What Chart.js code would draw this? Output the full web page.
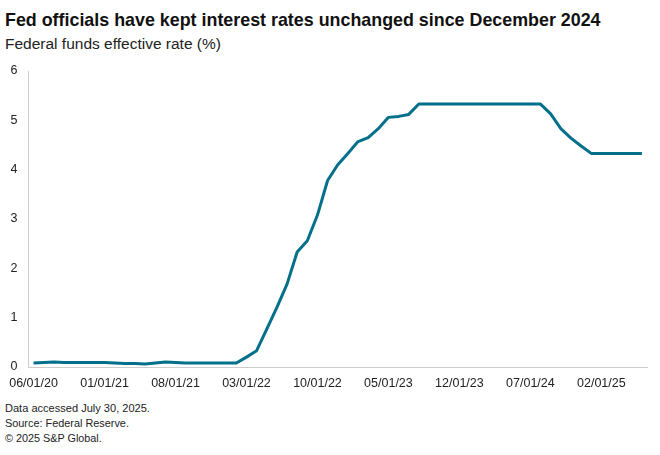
<!DOCTYPE html>
<html>
<head>
<meta charset="utf-8">
<script src="https://cdn.jsdelivr.net/npm/chart.js@4"></script>
<style>
  html, body { margin: 0; padding: 0; background: #fff; }
  body { width: 660px; height: 455px; position: relative; overflow: hidden; font-family: "Liberation Sans", Arial, sans-serif; }
  .txt { position: absolute; left: 5px; white-space: nowrap; line-height: 1; }
  #title { top: 12px; font-weight: bold; font-size: 18px; color: #111; }
  #subtitle { top: 36px; font-size: 15px; color: #222; }
  .foot { font-size: 11px; color: #222; }
  #f1 { top: 403px; } #f2 { top: 418px; } #f3 { top: 433px; }
  #wrap { position: absolute; left: 0; top: 0; width: 660px; height: 400px; }
</style>
</head>
<body>
<div id="title" class="txt" data-w="596">Fed officials have kept interest rates unchanged since December 2024</div>
<div id="subtitle" class="txt" data-w="216">Federal funds effective rate (%)</div>
<div id="f1" class="txt foot" data-w="145">Data accessed July 30, 2025.</div>
<div id="f2" class="txt foot" data-w="124">Source: Federal Reserve.</div>
<div id="f3" class="txt foot" data-w="97">© 2025 S&amp;P Global.</div>
<div id="wrap"><canvas id="c"></canvas></div>
<script>
const months = [
  "06/01/20","07/01/20","08/01/20","09/01/20","10/01/20","11/01/20","12/01/20",
  "01/01/21","02/01/21","03/01/21","04/01/21","05/01/21","06/01/21","07/01/21","08/01/21","09/01/21","10/01/21","11/01/21","12/01/21",
  "01/01/22","02/01/22","03/01/22","04/01/22","05/01/22","06/01/22","07/01/22","08/01/22","09/01/22","10/01/22","11/01/22","12/01/22",
  "01/01/23","02/01/23","03/01/23","04/01/23","05/01/23","06/01/23","07/01/23","08/01/23","09/01/23","10/01/23","11/01/23","12/01/23",
  "01/01/24","02/01/24","03/01/24","04/01/24","05/01/24","06/01/24","07/01/24","08/01/24","09/01/24","10/01/24","11/01/24","12/01/24",
  "01/01/25","02/01/25","03/01/25","04/01/25","05/01/25","06/01/25"
];
const fedFundsRate = [
  0.08,0.09,0.10,0.09,0.09,0.09,0.09,
  0.09,0.08,0.07,0.07,0.06,0.08,0.10,0.09,0.08,0.08,0.08,0.08,
  0.08,0.08,0.20,0.33,0.77,1.21,1.68,2.33,2.56,3.08,3.78,4.10,
  4.33,4.57,4.65,4.83,5.06,5.08,5.12,5.33,5.33,5.33,5.33,5.33,
  5.33,5.33,5.33,5.33,5.33,5.33,5.33,5.33,5.13,4.83,4.64,4.48,
  4.33,4.33,4.33,4.33,4.33,4.33
];
const shownTicks = ["06/01/20","01/01/21","08/01/21","03/01/22","10/01/22","05/01/23","12/01/23","07/01/24","02/01/25"];
const yTicks = [0,1,2,3,4,5,6];

// fit text widths
const mc = document.createElement('canvas').getContext('2d');
document.querySelectorAll('.txt').forEach(el => {
  const cs = getComputedStyle(el);
  const size = parseFloat(cs.fontSize);
  mc.font = cs.fontWeight + ' ' + size + 'px ' + cs.fontFamily;
  const w = mc.measureText(el.textContent).width;
  const target = parseFloat(el.dataset.w);
  el.style.fontSize = (size * target / w).toFixed(2) + 'px';
});

const tickFont = { family: "'Liberation Sans', Arial, sans-serif", size: 12.5 };
new Chart(document.getElementById('c'), {
  type: 'line',
  data: {
    labels: months,
    datasets: [{
      data: fedFundsRate,
      borderColor: '#02708a',
      borderWidth: 3,
      pointRadius: 0,
      tension: 0,
      fill: false,
      borderJoinStyle: 'round'
    }]
  },
  options: {
    responsive: true,
    maintainAspectRatio: false,
    animation: false,
    layout: { padding: { top: 71, left: 8, right: 13, bottom: 3 } },
    plugins: { legend: { display: false }, tooltip: { enabled: false } },
    scales: {
      x: {
        type: 'category',
        offset: true,
        grid: { display: false, drawTicks: false },
        border: { display: true, color: '#cccccc', width: 1 },
        ticks: {
          autoSkip: false, maxRotation: 0, minRotation: 0, padding: 9,
          color: '#222', font: tickFont,
          callback: function(v, i) { const l = months[i]; return shownTicks.includes(l) ? l : ''; }
        },
        afterFit: s => { s.height = 30; }
      },
      y: {
        min: 0, max: 6,
        afterBuildTicks: s => { s.ticks = yTicks.map(v => ({ value: v })); },
        grid: { display: false, drawTicks: false },
        border: { display: true, color: '#cccccc', width: 1 },
        ticks: { padding: 11, color: '#222', font: tickFont },
        afterFit: s => { s.width = 18; }
      }
    }
  }
});
</script>
</body>
</html>
